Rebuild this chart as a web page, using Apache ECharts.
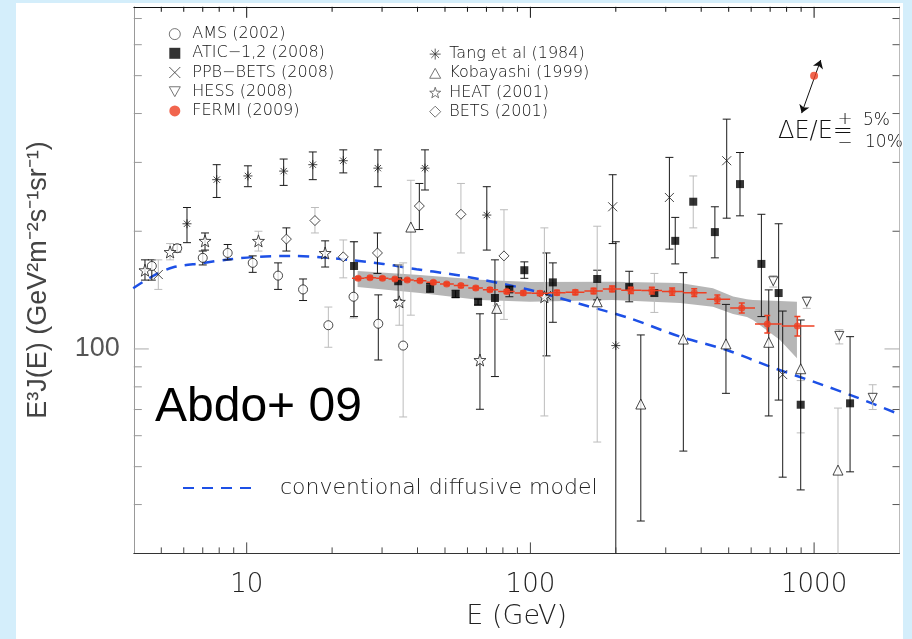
<!DOCTYPE html>
<html><head><meta charset="utf-8">
<script src="https://cdn.jsdelivr.net/npm/echarts@6.0.0/dist/echarts.min.js"></script>
<style>
html,body{margin:0;padding:0;background:#d4eefb;width:912px;height:639px;overflow:hidden}
#chart{position:absolute;left:16px;top:3px;width:887px;height:636px;background:#fff}
</style></head><body><div id="chart"></div>
<script>
// ---------------- data ----------------
const X_MIN = 4, X_MAX = 2000, Y_MIN = 30, Y_MAX = 750;

const xTicksMinor = [5,6,7,8,9,20,30,40,50,60,70,80,90,200,300,400,500,600,700,800,900];
const xTicksMajor = [10,100,1000];
const yTicksMinor = [40,50,60,70,80,90,200,300,400,500,600,700];
const yTicksMajor = [100];

// FERMI (2009)
const fermiE   = [24.7,27.2,30.1,33.3,36.8,40.8,45.5,50.7,56.9,64.2,72.0,82.5,94.4,108,124,144,167,194,226,268,316,378,456,556,684,873];
const fermiV   = [151.6,152.1,151.6,151.0,150.1,149.5,148.1,146.6,145.2,143.2,141.8,140.2,139.0,138.8,139.3,139.6,140.7,142.4,141.3,141.0,140.2,139.3,134.0,127.3,115.8,114.5];
const fermiErr = [1.3,1.3,1.3,1.3,1.3,1.4,1.4,1.4,1.5,1.5,1.6,1.6,1.7,1.8,1.9,2.0,2.2,2.4,2.6,2.8,3.0,3.2,3.4,3.8,6.0,6.5];
const fermiEdges = [23.5,26,28.6,31.6,35,38.8,43,48,53.7,60.4,68,77,88,101,116,133,155,180,209,246,291,346,418,506,619,769,1003];
// systematic band
const bandE  = [24.6,40.8,66.4,99.7,195,337,440,518,580,609,758,870];
const bandHi = [158.3,154.6,150.2,148.4,148.6,147.5,143,136.1,134,133.4,132.7,132.1];
const bandLo = [144.1,139,133.5,132.1,133.5,131.1,128.3,122.9,120.7,118.6,105.4,94.7];
// conventional diffusive model
const modelE = [3.98,4.75,5.51,6.94,8.73,11.1,14.2,18.1,23.1,30.3,39.7,52.1,68.2,100,150,224,337,492,699,994,1413,1955,2000];
const modelV = [143,154.7,161.8,165.7,169.6,172.2,172.9,171.6,168.9,165,159.9,155.5,150.2,141.5,130.3,119.8,107.5,99.4,90.1,82.5,75.2,68.5,68.0];

// [E, E^3J, low, high]
const amsBlack = [[4.63,163,150,169],[5.69,181,177,185],[7.0,171,164,178],[8.57,176,169,185],[10.5,166,157,173],[12.9,154,142,166],[15.8,142,133,151],[29.1,116,93.7,137.5]];
const amsGray  = [[19.4,115,101,128],[23.8,136,120,188],[35.6,102,67,166]];
const aticBlack = [[23.9,163,121,188],[34.2,149,133.5,164],[44.3,143,139.6,147],[54.5,138,135.4,141.3],[65.4,132,129.6,134],[75.0,135,85,169],[84.3,142,136,144.3],[95.2,159,151.6,167],[120,148,117,166],[172,151,133.5,159],[223,144,132,158],[324,189,165,217],[447,199,171,231],[548,264,219,318],[652,165,121,221],[750,139,74,209],[1339,72.6,48.5,107.5]];
const aticGray  = [[273.5,139,124,156],[375,238,204,277],[897,72,61,83]];
const ppbBlack = [[114,137,96,176],[195,231,186,279],[309,244,180,309],[492,303,216,387],[775,86,47,125]];
const ppbGray  = [[4.88,155,142,169]];
const hessGray = [[718,149,144,154],[942,132,127,136],[1227,108,103,112],[1609,75,70,81]];
const tangBlack = [[6.16,209,187,230],[7.84,271,244,296],[10.1,277,260,294],[13.5,285,262,306],[17.1,296,271,319],[21.9,303,282,323],[29.0,290,260,323],[42.5,290,255,323],[70.2,220,179,260],[200,102,20,188]];
const kobBlack = [[245,72.3,36.3,108.6],[346,106,54.8,156.7],[489,103,77,130],[692,104,67.4,141.6],[897,89,43.6,118.6]];
const kobGray  = [[37.9,205,122,270],[76.1,127,125,129],[172,132,57.8,206],[1214,49,20,70.6]];
const heatBlack = [[4.38,159,150,169],[7.13,189,179,198],[18.9,176,162,189],[66.4,93.7,70.1,123]];
const heatGray  = [[5.37,177,169,186],[11.0,189,178,200],[34.5,132,115,164],[112,136,67.4,204]];
const betsBlack = [[13.8,191,178,204],[28.9,176,156,198],[40.6,232,202,265]];
const betsGray  = [[17.4,213,198,230],[21.9,172,152,190],[56.9,221,176,265],[80.7,173,119,227]];

// energy-scale annotation
const shiftPoint = [1000, 500];
const shiftArrow = [[904, 401], [1055, 548]];

// ---------------- style ----------------
const HER = '"DejaVu Sans", "Noto Sans", sans-serif';
const HELV = '"Liberation Sans", Arial, sans-serif';
const BLACK = '#1a1a1a', GRAY = '#bcbcbc', RED = '#ee3f22', BLUE = '#1d50e6';
const SYM = {
  x: 'path://M0,0L10,10M10,0L0,10',
  ast: 'path://M5,0L5,10M0,5L10,5M1.5,1.5L8.5,8.5M8.5,1.5L1.5,8.5',
  down: 'path://M0,0L10,0L5,9Z',
  up: 'path://M5,0L10,9L0,9Z',
  star: 'path://M5,0L6.2,3.6L10,3.7L7,6L8.1,9.6L5,7.5L1.9,9.6L3,6L0,3.7L3.8,3.6Z'
};
const hollow = c => ({color:'#fff', borderColor:c, borderWidth:1});
const stroke = c => ({color:'none', borderColor:c, borderWidth:1});

function errBars(data, color) {
  return {
    type:'custom', data, clip:true, silent:true, z:3,
    renderItem(p, api) {
      const x = api.value(0);
      const t = api.coord([x, api.value(3)]), b = api.coord([x, api.value(2)]);
      const h = 4, st = {stroke:color, lineWidth:1};
      return {type:'group', children:[
        {type:'line', shape:{x1:t[0],y1:t[1],x2:b[0],y2:b[1]}, style:st},
        {type:'line', shape:{x1:t[0]-h,y1:t[1],x2:t[0]+h,y2:t[1]}, style:st},
        {type:'line', shape:{x1:b[0]-h,y1:b[1],x2:b[0]+h,y2:b[1]}, style:st}
      ]};
    }
  };
}
function marks(name, data, symbol, size, itemStyle) {
  return {type:'scatter', name, data: data.map(d => [d[0], d[1]]), symbol, symbolSize:size,
    itemStyle, z:4, silent:true, clip:true};
}
function xTicks(values, lenB, lenT) {
  return {type:'custom', silent:true, z:10, clip:false, data: values.map(v => [v, Y_MIN]),
    renderItem(p, api) {
      const v = api.value(0);
      const b = api.coord([v, Y_MIN]), t = api.coord([v, Y_MAX]);
      return {type:'group', children:[
        {type:'line', shape:{x1:b[0],y1:b[1],x2:b[0],y2:b[1]-lenB}, style:{stroke:'#444',lineWidth:1}},
        {type:'line', shape:{x1:t[0],y1:t[1],x2:t[0],y2:t[1]+lenT}, style:{stroke:'#111',lineWidth:1}}
      ]};
    }};
}
function yTicks(values, lenL, lenR, colL, colR) {
  return {type:'custom', silent:true, z:10, clip:false, data: values.map(v => [X_MIN, v]),
    renderItem(p, api) {
      const v = api.value(1);
      const l = api.coord([X_MIN, v]), r = api.coord([X_MAX, v]);
      return {type:'group', children:[
        {type:'line', shape:{x1:l[0],y1:l[1],x2:l[0]+lenL,y2:l[1]}, style:{stroke:colL,lineWidth:1}},
        {type:'line', shape:{x1:r[0],y1:r[1],x2:r[0]-lenR,y2:r[1]}, style:{stroke:colR,lineWidth:1}}
      ]};
    }};
}
const isPow10 = v => { const l = Math.log10(v); return Math.abs(l - Math.round(l)) < 1e-6; };

const series = [
  // systematic band
  {type:'custom', silent:true, z:1, clip:true, data:[[bandE[0], bandLo[0]]],
    renderItem(p, api) {
      const pts = bandE.map((e,i) => api.coord([e, bandHi[i]]));
      for (let i = bandE.length - 1; i >= 0; i--) pts.push(api.coord([bandE[i], bandLo[i]]));
      return {type:'polygon', shape:{points:pts}, style:{fill:'#b6b6b6'}};
    }},
  {type:'line', name:'conventional diffusive model', data: modelE.map((e,i) => [e, modelV[i]]),
    smooth:0.3, symbol:'none', clip:true, silent:true, z:2,
    itemStyle:{color:BLUE},
    lineStyle:{color:BLUE, width:2.5, type:[11,8]}},
  errBars(amsBlack, BLACK), errBars(amsGray, GRAY),
  errBars(aticBlack, BLACK), errBars(aticGray, GRAY),
  errBars(ppbBlack, BLACK), errBars(ppbGray, GRAY),
  errBars(hessGray, GRAY),
  errBars(tangBlack, BLACK),
  errBars(kobBlack, BLACK), errBars(kobGray, GRAY),
  errBars(heatBlack, BLACK), errBars(heatGray, GRAY),
  errBars(betsBlack, BLACK), errBars(betsGray, GRAY),
  marks('AMS (2002)', amsBlack, 'circle', 9, hollow(BLACK)),
  marks('AMS (2002)', amsGray, 'circle', 9, hollow(BLACK)),
  marks('ATIC−1,2 (2008)', aticBlack, 'rect', 8, {color:'#000'}),
  marks('ATIC−1,2 (2008)', aticGray, 'rect', 8, {color:'#000'}),
  marks('PPB−BETS (2008)', ppbBlack, SYM.x, 9, stroke(BLACK)),
  marks('PPB−BETS (2008)', ppbGray, SYM.x, 9, stroke(BLACK)),
  marks('HESS (2008)', hessGray, SYM.down, 9, hollow(BLACK)),
  marks('Tang et al (1984)', tangBlack, SYM.ast, 9, stroke(BLACK)),
  marks('Kobayashi (1999)', kobBlack, SYM.up, 10, hollow(BLACK)),
  marks('Kobayashi (1999)', kobGray, SYM.up, 10, hollow(BLACK)),
  marks('HEAT (2001)', heatBlack, SYM.star, 12, hollow(BLACK)),
  marks('HEAT (2001)', heatGray, SYM.star, 12, hollow(BLACK)),
  marks('BETS (2001)', betsBlack, 'diamond', 10, hollow(BLACK)),
  marks('BETS (2001)', betsGray, 'diamond', 10, hollow(BLACK)),
  // FERMI error bars (statistical + energy bins)
  {type:'custom', silent:true, z:5, clip:true,
    data: fermiE.map((e,i) => [e, fermiV[i], fermiV[i]-fermiErr[i], fermiV[i]+fermiErr[i], fermiEdges[i], fermiEdges[i+1]]),
    renderItem(p, api) {
      const e = api.value(0), v = api.value(1);
      const t = api.coord([e, api.value(3)]), b = api.coord([e, api.value(2)]);
      const l = api.coord([api.value(4), v]), r = api.coord([api.value(5), v]);
      const st = {stroke:RED, lineWidth:1.5};
      return {type:'group', children:[
        {type:'line', shape:{x1:t[0],y1:t[1],x2:b[0],y2:b[1]}, style:st},
        {type:'line', shape:{x1:t[0]-3,y1:t[1],x2:t[0]+3,y2:t[1]}, style:st},
        {type:'line', shape:{x1:b[0]-3,y1:b[1],x2:b[0]+3,y2:b[1]}, style:st},
        {type:'line', shape:{x1:l[0],y1:l[1],x2:r[0],y2:r[1]}, style:st}
      ]};
    }},
  {type:'scatter', name:'FERMI (2009)', data: fermiE.map((e,i) => [e, fermiV[i]]), symbol:'circle',
    symbolSize:7, itemStyle:{color:RED}, z:6, silent:true, clip:true},
  // energy-scale annotation
  {type:'lines', coordinateSystem:'cartesian2d', silent:true, z:6,
    data:[{coords: shiftArrow}], symbol:['arrow','arrow'], symbolSize:8,
    lineStyle:{color:'#111', width:1, opacity:1}},
  {type:'scatter', data:[shiftPoint], symbol:'circle', symbolSize:8, itemStyle:{color:RED}, z:7, silent:true},
  // axis ticks
  xTicks(xTicksMinor, 6, 5),
  xTicks(xTicksMajor, 11, 11),
  yTicks(yTicksMinor, 8, 7, '#999', '#555'),
  yTicks(yTicksMajor, 15, 15, '#aaa', '#aaa')
];

const legendBase = {orient:'vertical', padding:0, itemGap:0, itemWidth:11, itemHeight:11,
  selectedMode:false, textStyle:{fontFamily:HER, fontWeight:200, fontSize:16, color:'#111', lineHeight:19.2}};

const option = {
  animation:false,
  grid:{left:117.8, top:3.8, width:765.7, height:546.6, outerBoundsMode:'none'},
  xAxis:[
    {type:'log', logBase:10, min:X_MIN, max:X_MAX, position:'bottom',
      axisLine:{show:true, lineStyle:{color:'#333', width:1}}, axisTick:{show:false}, splitLine:{show:false},
      axisLabel:{formatter: v => isPow10(v) ? String(Math.round(v)) : '', fontFamily:HER, fontWeight:200,
        fontSize:26, color:'#222', margin:19},
      name:'E (GeV)', nameLocation:'middle', nameGap:50,
      nameTextStyle:{fontFamily:HER, fontWeight:200, fontSize:27, color:'#222'}},
    {type:'log', logBase:10, min:X_MIN, max:X_MAX, position:'top',
      axisLine:{show:true, lineStyle:{color:'#111', width:1}}, axisTick:{show:false},
      axisLabel:{show:false}, splitLine:{show:false}}
  ],
  yAxis:[
    {type:'log', logBase:10, min:Y_MIN, max:Y_MAX, position:'left',
      axisLine:{show:true, lineStyle:{color:'#999', width:1}}, axisTick:{show:false}, splitLine:{show:false},
      axisLabel:{formatter: v => isPow10(v) ? String(Math.round(v)) : '', fontFamily:HELV,
        fontSize:27, color:'#555', margin:14},
      name:'E³J(E) (GeV²m⁻²s⁻¹sr⁻¹)', nameLocation:'middle', nameGap:82,
      nameTextStyle:{fontFamily:HELV, fontSize:27, color:'#444'}},
    {type:'log', logBase:10, min:Y_MIN, max:Y_MAX, position:'right',
      axisLine:{show:true, lineStyle:{color:'#bbb', width:1}}, axisTick:{show:false},
      axisLabel:{show:false}, splitLine:{show:false}}
  ],
  legend:[
    Object.assign({}, legendBase, {left:150.8, top:21.5,
      textStyle:Object.assign({}, legendBase.textStyle, {padding:[0,0,0,7]}),
      data:[
        {name:'AMS (2002)', icon:'circle', itemStyle:hollow('#555')},
        {name:'ATIC−1,2 (2008)', icon:'rect', itemStyle:{color:'#000', borderWidth:0}},
        {name:'PPB−BETS (2008)', icon:SYM.x, itemStyle:stroke('#333')},
        {name:'HESS (2008)', icon:SYM.down, itemStyle:hollow('#555')},
        {name:'FERMI (2009)', icon:'circle', itemStyle:{color:RED, borderWidth:0}}
      ]}),
    Object.assign({}, legendBase, {left:411.2, top:41.5,
      textStyle:Object.assign({}, legendBase.textStyle, {padding:[0,0,0,3.5]}),
      data:[
        {name:'Tang et al (1984)', icon:SYM.ast, itemStyle:stroke('#333')},
        {name:'Kobayashi (1999)', icon:SYM.up, itemStyle:hollow('#555')},
        {name:'HEAT (2001)', icon:SYM.star, itemStyle:hollow('#555')},
        {name:'BETS (2001)', icon:'diamond', itemStyle:hollow('#555')}
      ]}),
    {orient:'horizontal', padding:0, left:166, top:474, itemWidth:76, itemHeight:14, selectedMode:false,
      itemStyle:{opacity:0},
      textStyle:{fontFamily:HER, fontWeight:200, fontSize:22, color:'#222', padding:[0,0,0,16]},
      data:[{name:'conventional diffusive model', itemStyle:{opacity:0}}]}
  ],
  graphic:[
    {type:'text', left:139, top:381, style:{text:'Abdo+ 09', font:'48px "Liberation Sans", Arial, sans-serif', fill:'#000'}},
    {type:'text', x:762, y:129, style:{text:'ΔE/E=', font:'200 24px "DejaVu Sans", sans-serif', fill:'#111', verticalAlign:'middle', align:'left'}},
    {type:'text', x:829, y:116, style:{text:'+', font:'200 18px "DejaVu Sans", sans-serif', fill:'#111', verticalAlign:'middle', align:'center'}},
    {type:'text', x:829, y:140, style:{text:'−', font:'200 18px "DejaVu Sans", sans-serif', fill:'#111', verticalAlign:'middle', align:'center'}},
    {type:'text', x:847, y:118, style:{text:'5%', font:'200 17px "DejaVu Sans", sans-serif', fill:'#111', verticalAlign:'middle', align:'left'}},
    {type:'text', x:849, y:140, style:{text:'10%', font:'200 17px "DejaVu Sans", sans-serif', fill:'#111', verticalAlign:'middle', align:'left'}}
  ],
  series
};

const chart = echarts.init(document.getElementById('chart'), null, {renderer:'canvas'});
chart.setOption(option);
</script></body></html>
